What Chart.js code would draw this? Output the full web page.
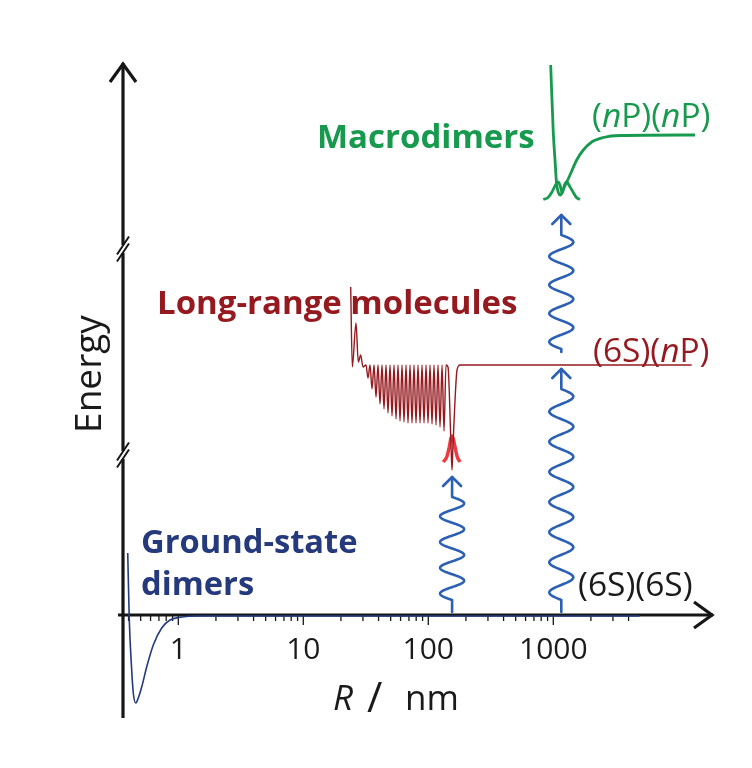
<!DOCTYPE html>
<html>
<head>
<meta charset="utf-8">
<script src="https://cdn.jsdelivr.net/npm/chart.js@4.4.1/dist/chart.umd.min.js"></script>
<style>
  html, body { margin: 0; padding: 0; background: #fff; }
</style>
</head>
<body>
<canvas id="chart" width="752" height="768"></canvas>
<script>
// R in nm, energy in arbitrary units (0 = (6S)(6S) asymptote)
const groundR = [0.394, 0.4055, 0.4238, 0.4365, 0.4563, 0.4786, 0.5095, 0.5586, 0.631, 0.7365, 0.8583, 1.032, 1.49, 4900];
const groundE = [62, -5, -55, -78, -88, -83, -72, -52, -30, -13, -5, -2.3, -1, -1];

const longR = [23.95, 24.66, 26.40, 27.54, 28.78, 30.03,
  31.74, 32.94, 34.18, 35.46, 36.79, 38.17, 39.60, 41.09, 42.63, 44.23, 45.89, 47.61, 49.40, 51.26,
  53.18, 55.18, 57.25, 59.39, 61.62, 63.94, 66.34, 68.82, 71.41, 74.09, 76.87, 79.76, 82.75, 85.86,
  89.08, 92.43, 95.90, 99.50, 103.2, 107.1, 111.1, 115.3, 119.6, 124.1, 128.8, 133.6, 138.6,
  143.8, 151.9, 154.8, 157.6, 163.6, 169.7, 179.3, 12800];
const longE = [328, 248, 292, 253, 260, 248,
  250, 237, 250, 226, 250, 218, 250, 211, 250, 206, 250, 202, 250, 199,
  250, 196, 250, 194, 250, 193, 250, 192, 250, 192, 250, 192, 250, 192,
  250, 192, 250, 192, 250, 191, 250, 190, 250, 188, 250, 184, 250,
  248, 170, 145, 170, 215, 245, 250, 250];

// bound state in the long-range well
const longWaveR = [131.8, 140.4, 147.2, 151.9, 154.8, 157.6, 163.6, 170.6, 179.3];
const longWaveE = [153, 158, 168, 177, 179, 177, 168, 158, 153];

const macroR = [953, 1000, 1032, 1061, 1101, 1141, 1195, 1360, 1539, 1738, 2029, 2512, 3417, 13600];
const macroE = [550, 482, 455, 432, 422, 420, 425, 440, 455, 465, 473, 477.5, 479.5, 480];

const macroWaveR = [831.8, 907.3, 976.3, 1032, 1090, 1131, 1180, 1229, 1280, 1348, 1438, 1533, 1635];
const macroWaveE = [415.5, 417.5, 423, 429, 433, 430, 422, 430, 433, 429, 423, 417.5, 415.5];

// photo-excitation arrows: position and energy from -> to
const excitationR = [155, 1159, 1159];
const excitationFrom = [3, 3, 263];
const excitationTo = [138, 246, 400];

const majorTicks = [1, 10, 100, 1000];
const tickLabels = ['1', '10', '100', '1000'];
const yBreaks = [160, 366];

const FONT = "'Open Sans', sans-serif";
const GREEN = '#179a4e';
const DARKRED = '#951a1f';
const RED = '#ef3a42';
const NAVY = '#253a7c';
const BLUE = '#2c60b5';

function pts(rs, es) {
  return rs.map((r, i) => ({ x: r, y: es[i] }));
}

function wavyArrow(ctx, px, yBase, yTip, lead) {
  const head = 20, amp = 12;
  const w0 = yBase - lead, w1 = yTip + head;
  const len = w0 - w1;
  const halves = Math.max(2, 2 * Math.round(len / 28.4));
  ctx.beginPath();
  ctx.moveTo(px, yBase);
  ctx.lineTo(px, w0);
  for (let i = 1; i <= 300; i++) {
    const t = i / 300;
    ctx.lineTo(px - amp * Math.sin(Math.PI * halves * t), w0 - len * t);
  }
  ctx.lineTo(px, yTip);
  ctx.stroke();
  ctx.beginPath();
  ctx.moveTo(px - 9, yTip + 9);
  ctx.lineTo(px, yTip);
  ctx.lineTo(px + 9, yTip + 9);
  ctx.stroke();
}

// draws pieces [text, italic] one after the other
function richText(ctx, parts, x, y, size, color, weight) {
  ctx.fillStyle = color;
  ctx.textBaseline = 'alphabetic';
  ctx.textAlign = 'left';
  let cx = x;
  parts.forEach(p => {
    ctx.font = (p[1] ? 'italic ' : '') + (weight || 'normal') + ' ' + size + 'px ' + FONT;
    ctx.fillText(p[0], cx, y);
    cx += ctx.measureText(p[0]).width;
  });
}

const decor = {
  id: 'decor',
  beforeDatasetsDraw(chart) {
    const { ctx, chartArea, scales: { x, y } } = chart;
    const ax = chartArea.left;
    const y0 = y.getPixelForValue(0);
    ctx.save();
    ctx.strokeStyle = '#161616';
    ctx.lineWidth = 3.2;
    ctx.lineJoin = 'miter';
    // y axis
    ctx.beginPath();
    ctx.moveTo(ax, chartArea.bottom);
    ctx.lineTo(ax, chartArea.top);
    ctx.stroke();
    ctx.beginPath();
    ctx.moveTo(ax - 13, chartArea.top + 19);
    ctx.lineTo(ax, chartArea.top + 1);
    ctx.lineTo(ax + 13, chartArea.top + 19);
    ctx.stroke();
    // x axis
    ctx.beginPath();
    ctx.moveTo(ax - 5, y0);
    ctx.lineTo(chartArea.right, y0);
    ctx.stroke();
    ctx.beginPath();
    ctx.moveTo(chartArea.right - 19, y0 - 13);
    ctx.lineTo(chartArea.right - 1, y0);
    ctx.lineTo(chartArea.right - 19, y0 + 13);
    ctx.stroke();
    // ticks
    ctx.lineWidth = 1.3;
    for (let d = -1; d <= 3; d++) {
      for (let m = 1; m <= 9; m++) {
        const v = m * Math.pow(10, d);
        if (v < 0.4 || v > 4000) continue;
        const px = x.getPixelForValue(v);
        ctx.beginPath();
        ctx.moveTo(px, y0 + 1);
        ctx.lineTo(px, y0 + (m === 1 ? 10 : 6));
        ctx.stroke();
      }
    }
    ctx.fillStyle = '#1a1a1a';
    ctx.font = '30px ' + FONT;
    ctx.textAlign = 'center';
    ctx.textBaseline = 'alphabetic';
    majorTicks.forEach((v, i) => {
      ctx.fillText(tickLabels[i], x.getPixelForValue(v), y0 + 44);
    });
    // axis breaks
    yBreaks.forEach(e => {
      const py = y.getPixelForValue(e);
      ctx.fillStyle = '#fff';
      ctx.fillRect(ax - 3, py - 4, 6, 8);
      ctx.strokeStyle = '#161616';
      ctx.lineWidth = 2;
      [-3.5, 3.5].forEach(d => {
        ctx.beginPath();
        ctx.moveTo(ax - 6, py + d + 9);
        ctx.lineTo(ax + 6, py + d - 9);
        ctx.stroke();
      });
    });
    ctx.restore();
  },
  afterDatasetsDraw(chart) {
    const { ctx, scales: { x, y } } = chart;
    ctx.save();
    ctx.strokeStyle = BLUE;
    ctx.lineWidth = 2.6;
    ctx.lineJoin = 'round';
    ctx.lineCap = 'round';
    const leads = [12, 12, 3];
    excitationR.forEach((r, i) => {
      wavyArrow(ctx, x.getPixelForValue(r), y.getPixelForValue(excitationFrom[i]),
        y.getPixelForValue(excitationTo[i]), leads[i]);
    });
    ctx.restore();
  },
  afterDraw(chart) {
    const { ctx } = chart;
    ctx.save();
    richText(ctx, [['Macrodimers']], 317, 148, 33, GREEN, 'bold');
    richText(ctx, [['('], ['n', true], ['P)('], ['n', true], ['P)']], 592, 127, 33.5, GREEN);
    richText(ctx, [['Long-range molecules']], 157, 314, 33, DARKRED, 'bold');
    richText(ctx, [['(6S)('], ['n', true], ['P)']], 593, 362, 33.5, DARKRED);
    richText(ctx, [['Ground-state']], 141, 553, 32.7, NAVY, 'bold');
    richText(ctx, [['dimers']], 141, 595, 32.7, NAVY, 'bold');
    richText(ctx, [['(6S)(6S)']], 578, 596, 33.5, '#1a1a1a');
    richText(ctx, [['R', true]], 333, 710, 35, '#1a1a1a');
    richText(ctx, [['/']], 367, 712, 42, '#1a1a1a');
    richText(ctx, [['nm']], 405, 710, 35, '#1a1a1a');
    ctx.translate(101, 374);
    ctx.rotate(-Math.PI / 2);
    ctx.font = '37px ' + FONT;
    ctx.fillStyle = '#1a1a1a';
    ctx.textAlign = 'center';
    ctx.textBaseline = 'alphabetic';
    ctx.fillText('Energy', 0, 0);
    ctx.restore();
  }
};

const line = (data, color, width, order) => ({
  data: data,
  showLine: true,
  borderColor: color,
  borderWidth: width,
  pointRadius: 0,
  fill: false,
  cubicInterpolationMode: 'monotone',
  clip: false,
  order: order
});

new Chart(document.getElementById('chart'), {
  type: 'scatter',
  data: {
    datasets: [
      line(pts(groundR, groundE), NAVY, 1.6, 2),
      line(pts(longR, longE), DARKRED, 1.4, 0),
      line(pts(longWaveR, longWaveE), RED, 3.5, 1),
      line(pts(macroR, macroE), GREEN, 2.8, 2),
      line(pts(macroWaveR, macroWaveE), GREEN, 2.8, 2)
    ]
  },
  options: {
    responsive: false,
    animation: false,
    events: [],
    layout: { padding: { left: 123, right: 39, top: 63, bottom: 50 } },
    plugins: { legend: { display: false }, tooltip: { enabled: false } },
    scales: {
      x: { type: 'logarithmic', min: 0.3611, max: 18950, display: false },
      y: { type: 'linear', min: -103, max: 552, display: false }
    }
  },
  plugins: [decor]
});
</script>
</body>
</html>
